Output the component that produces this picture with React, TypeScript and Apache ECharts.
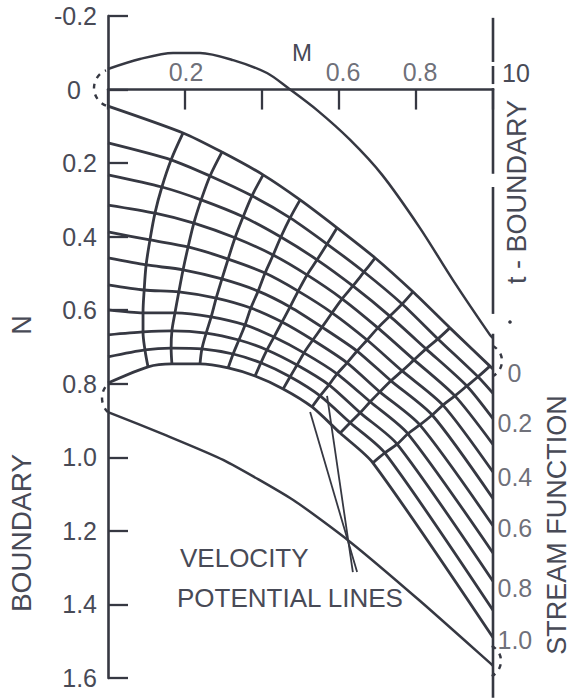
import React, { useEffect, useRef } from 'react';
import * as echarts from 'echarts';

const INK = '#363842';
const TEXT = '#484a56';
const FONT = '"Liberation Sans", Arial, sans-serif';

// Points are [M, N]
const upperBoundary: number[][] = [
  [0, -0.056], [0.083, -0.083], [0.169, -0.0995], [0.239, -0.0995], [0.325, -0.08], [0.413, -0.045],
  [0.468, -0.004], [0.543, 0.056], [0.629, 0.137], [0.712, 0.232], [0.81, 0.376], [0.896, 0.518],
  [0.992, 0.667], [1.0, 0.676],
];
const lowerBoundary: number[][] = [
  [0, 0.877], [0.148, 0.939], [0.299, 1.007], [0.481, 1.116], [0.629, 1.23], [0.81, 1.39], [0.992, 1.559], [1.0, 1.567],
];

// Stream lines psi = 0.0 ... 1.0 : left start, 9 net nodes, right end
const psi00: number[][] = [[0, 0.045], [0.195, 0.118], [0.296, 0.17], [0.403, 0.232], [0.499, 0.3], [0.595, 0.376], [0.694, 0.458], [0.792, 0.55], [0.888, 0.648], [0.992, 0.752], [1.0, 0.76]];
const psi01: number[][] = [[0, 0.145], [0.164, 0.191], [0.265, 0.235], [0.374, 0.289], [0.473, 0.349], [0.569, 0.42], [0.665, 0.496], [0.764, 0.583], [0.857, 0.678], [0.961, 0.781], [1.0, 0.826]];
const psi02: number[][] = [[0, 0.232], [0.14, 0.265], [0.242, 0.3], [0.351, 0.346], [0.449, 0.401], [0.543, 0.463], [0.636, 0.534], [0.732, 0.616], [0.826, 0.705], [0.932, 0.806], [1.0, 0.895]];
const psi03: number[][] = [[0, 0.314], [0.122, 0.336], [0.223, 0.363], [0.33, 0.403], [0.429, 0.45], [0.517, 0.504], [0.608, 0.569], [0.701, 0.648], [0.795, 0.735], [0.901, 0.833], [1.0, 0.965]];
const psi04: number[][] = [[0, 0.387], [0.109, 0.409], [0.208, 0.428], [0.312, 0.461], [0.408, 0.499], [0.494, 0.548], [0.582, 0.607], [0.673, 0.681], [0.764, 0.765], [0.87, 0.858], [1.0, 1.04]];
const psi05: number[][] = [[0, 0.458], [0.099, 0.477], [0.195, 0.49], [0.296, 0.515], [0.39, 0.548], [0.473, 0.591], [0.556, 0.646], [0.647, 0.711], [0.735, 0.792], [0.842, 0.885], [1.0, 1.112]];
const psi06: number[][] = [[0, 0.531], [0.094, 0.545], [0.184, 0.55], [0.281, 0.567], [0.371, 0.594], [0.452, 0.632], [0.532, 0.681], [0.621, 0.743], [0.706, 0.822], [0.81, 0.912], [1.0, 1.186]];
const psi07: number[][] = [[0, 0.599], [0.091, 0.607], [0.174, 0.607], [0.268, 0.618], [0.356, 0.64], [0.431, 0.673], [0.509, 0.716], [0.595, 0.773], [0.681, 0.849], [0.779, 0.936], [1.0, 1.26]];
const psi08: number[][] = [[0, 0.667], [0.091, 0.659], [0.166, 0.656], [0.255, 0.662], [0.34, 0.681], [0.413, 0.708], [0.491, 0.749], [0.574, 0.803], [0.655, 0.879], [0.751, 0.964], [1.0, 1.337]];
const psi09: number[][] = [[0, 0.727], [0.096, 0.708], [0.164, 0.703], [0.244, 0.705], [0.325, 0.719], [0.397, 0.743], [0.473, 0.781], [0.551, 0.833], [0.629, 0.906], [0.719, 0.988], [1.0, 1.416]];
const psi10: number[][] = [[0, 0.798], [0.104, 0.754], [0.166, 0.746], [0.239, 0.746], [0.312, 0.757], [0.382, 0.779], [0.455, 0.814], [0.53, 0.863], [0.603, 0.934], [0.688, 1.015], [1.0, 1.49]];
const STREAMLINES = [psi00, psi01, psi02, psi03, psi04, psi05, psi06, psi07, psi08, psi09, psi10];

const pointer1: number[][] = [[0.525, 0.877], [0.647, 1.312]];
const pointer2: number[][] = [[0.569, 0.833], [0.636, 1.312]];

// right edge (M = 1.0) drawn segments, [N from, N to]
const rightEdgeSegments: number[][] = [[-0.195, -0.075], [-0.064, -0.015], [-0.004, 0.229], [0.265, 0.61], [0.664, 1.654]];

const psiLabels = ['0', '0.2', '0.4', '0.6', '0.8', '1.0'];
const psiLabelN = [0.771, 0.906, 1.053, 1.192, 1.355, 1.496];
const topLabels = ['0.2', '0.6', '0.8'];
const topLabelM = [0.2, 0.6, 0.8];

export default function App() {
  const ref = useRef<HTMLDivElement>(null);
  useEffect(() => {
    const chart = echarts.init(ref.current!, null, { renderer: 'svg' });
    const line = (data: number[][], width = 2.8, smooth: number | boolean = 0.3) => ({
      type: 'line', data, symbol: 'none', smooth, clip: false, silent: true,
      lineStyle: { color: INK, width }, z: 3,
    });
    const series: any[] = [];
    series.push(line(upperBoundary, 2.5));
    series.push(line(lowerBoundary, 2.5, 0.2));
    STREAMLINES.forEach((s) => series.push(line(s, 2.8, 0.25)));
    for (let j = 1; j <= 9; j++) {
      series.push(line(STREAMLINES.map((s) => s[j]), 2.8, 0.35));
    }
    series.push(line(pointer1, 1.8, false));
    series.push(line(pointer2, 1.8, false));
    rightEdgeSegments.forEach(([a, b]) => series.push(line([[1, a], [1, b]], 2.6, false)));
    series.push({
      type: 'scatter', silent: true, symbolSize: 1, itemStyle: { color: 'rgba(0,0,0,0)' },
      data: psiLabelN.map((n, i) => ({
        value: [1, n],
        label: {
          show: true, formatter: psiLabels[i], position: 'right', distance: i === 0 ? 14 : 4,
          fontSize: 25, color: TEXT, fontFamily: FONT,
        },
      })),
    });
    series.push({
      type: 'scatter', silent: true, symbolSize: 1, itemStyle: { color: 'rgba(0,0,0,0)' },
      data: topLabelM.map((m, i) => ({
        value: [m, 0],
        label: {
          show: true, formatter: topLabels[i], position: 'top', distance: 5, offset: [i === 0 ? 1 : 4, 0],
          fontSize: 25, color: TEXT, fontFamily: FONT,
        },
      })),
    });

    const txt = (text: string, x: number, y: number, fontSize: number, rot = 0, align = 'center') => ({
      type: 'text', x, y, rotation: rot, silent: true,
      style: { text, fontSize, fontFamily: FONT, fill: TEXT, align, verticalAlign: 'middle' },
    });
    const arc = (cx: number, cy: number, r: number, s: number, e: number) => ({
      type: 'arc', silent: true,
      shape: { cx, cy, r, startAngle: s, endAngle: e, clockwise: true },
      style: { stroke: INK, lineWidth: 2.4, lineDash: [5, 6], fill: 'none' },
    });

    chart.setOption({
      animation: false,
      backgroundColor: '#ffffff',
      grid: { left: 108, right: 81, top: 16, bottom: 20, outerBoundsMode: 'none' },
      xAxis: {
        type: 'value', min: 0, max: 1, interval: 0.2, position: 'top',
        axisLine: { show: true, onZero: true, lineStyle: { color: INK, width: 2.6 } },
        axisTick: { show: true, inside: true, length: 20, lineStyle: { color: INK, width: 2.3 } },
        axisLabel: { show: false },
        splitLine: { show: false },
      },
      yAxis: {
        type: 'value', min: -0.2, max: 1.6, interval: 0.2, inverse: true, position: 'left',
        axisLine: { show: true, onZero: false, lineStyle: { color: INK, width: 2.6 } },
        axisTick: { show: true, inside: true, length: 20, lineStyle: { color: INK, width: 2.3 } },
        axisLabel: {
          show: true, margin: 11, fontSize: 25, color: TEXT, fontFamily: FONT, hideOverlap: false,
          showMinLabel: true, showMaxLabel: true,
          formatter: (v: number) => (Math.abs(v) < 1e-9 ? '{z|0}' : v.toFixed(1)),
          rich: { z: { fontSize: 25, color: TEXT, fontFamily: FONT, padding: [0, 16, 0, 0] } },
        },
        splitLine: { show: false },
      },
      series,
      graphic: [
        txt('M', 302, 52, 24),
        txt('10', 516, 73, 25),
        txt('N', 22, 325, 27, Math.PI / 2),
        txt('BOUNDARY', 21, 533, 28, Math.PI / 2),
        txt('t - BOUNDARY', 517, 192, 27, Math.PI / 2),
        txt('STREAM FUNCTION', 557, 525, 27, Math.PI / 2),
        txt('VELOCITY', 180, 558, 26, 0, 'left'),
        txt('POTENTIAL LINES', 177, 598, 26, 0, 'left'),
        arc(113, 88, 19, Math.PI * 0.62, Math.PI * 1.38),
        arc(122, 398, 20, Math.PI * 0.75, Math.PI * 1.25),
        arc(485, 361, 17, -Math.PI * 0.35, Math.PI * 0.35),
        arc(484, 661, 17, -Math.PI * 0.35, Math.PI * 0.35),
        { type: 'circle', silent: true, shape: { cx: 510, cy: 322, r: 1.8 }, style: { fill: INK } },
      ],
    });
    return () => chart.dispose();
  }, []);
  return (
    <div
      ref={ref}
      style={{ position: 'fixed', left: 0, top: 0, width: 574, height: 698, background: '#fff' }}
    />
  );
}
